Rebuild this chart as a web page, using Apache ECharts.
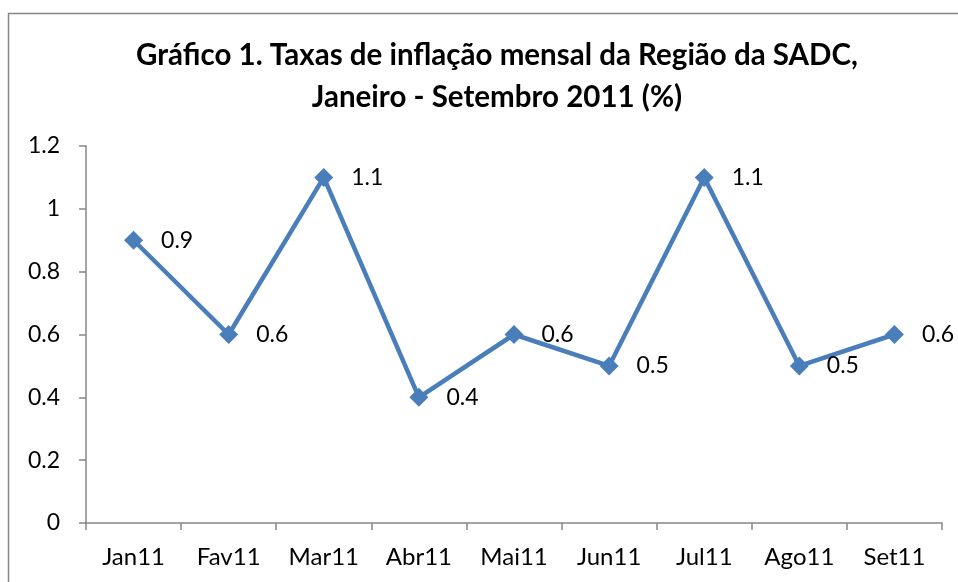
<!DOCTYPE html>
<html><head><meta charset="utf-8">
<script src="https://cdn.jsdelivr.net/npm/echarts@6/dist/echarts.min.js"></script>
<style>html,body{margin:0;padding:0;background:#fff}#c{width:958px;height:582px}</style>
</head><body><div id="c"></div>
<script>
const categories = ['Jan11','Fav11','Mar11','Abr11','Mai11','Jun11','Jul11','Ago11','Set11'];
const values = [0.9,0.6,1.1,0.4,0.6,0.5,1.1,0.5,0.6];
const yTicks = {min:0,max:1.2,interval:0.2};
const titleLines = ['Gráfico 1. Taxas de inflação mensal da Região da SADC,','Janeiro - Setembro 2011 (%)'];
const font = 'Lato, "Open Sans", sans-serif';
const chart = echarts.init(document.getElementById('c'), null, {renderer:'canvas'});
chart.setOption({
  animation:false,
  backgroundColor:'#fff',
  graphic:[{type:'rect',shape:{x:8.5,y:13.5,width:970,height:600},style:{fill:'none',stroke:'#868686',lineWidth:1.5},silent:true}],
  title:{text:titleLines.join('\n'),left:492,textAlign:'center',top:29,
    textStyle:{fontFamily:font,fontSize:29.5,fontWeight:'bold',color:'#000',lineHeight:42}},
  grid:{left:86,right:16,top:146,bottom:59,containLabel:false},
  xAxis:{type:'category',data:categories,boundaryGap:true,
    axisLine:{lineStyle:{color:'#868686',width:1.5}},
    axisTick:{show:true,length:7,interval:0,lineStyle:{color:'#868686',width:1.5}},
    axisLabel:{fontFamily:font,fontSize:24,color:'#000',margin:22}},
  yAxis:{type:'value',min:yTicks.min,max:yTicks.max,interval:yTicks.interval,
    axisLine:{show:true,lineStyle:{color:'#868686',width:1.5}},
    axisTick:{show:true,inside:false,length:7,lineStyle:{color:'#868686',width:1.5}},
    splitLine:{show:false},
    axisLabel:{fontFamily:font,fontSize:23,color:'#000',margin:26,
      formatter:v=>String(Math.round(v*10)/10)}},
  series:[{type:'line',data:values,symbol:'diamond',symbolSize:19,
    lineStyle:{color:'#4A7EBB',width:4.5},itemStyle:{color:'#4A7EBB'},
    label:{show:true,position:'right',distance:18,fontFamily:font,fontSize:23,color:'#000'}}]
});
</script></body></html>
